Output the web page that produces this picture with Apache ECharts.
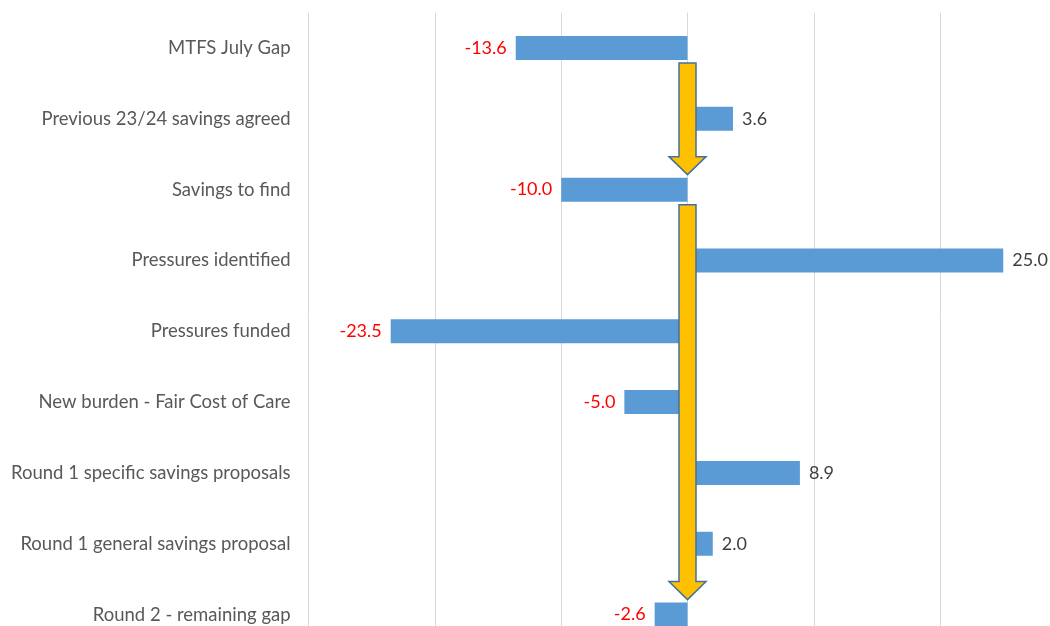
<!DOCTYPE html>
<html>
<head>
<meta charset="utf-8">
<script src="https://cdn.jsdelivr.net/npm/echarts@6/dist/echarts.min.js"></script>
<style>
  html, body { margin: 0; padding: 0; background: #fff; }
  #myChart { width: 1050px; height: 626px; }
</style>
</head>
<body>
<div id="myChart"></div>
<script>
  // categories, top to bottom
  var categories = [
    'MTFS July Gap',
    'Previous 23/24 savings agreed',
    'Savings to find',
    'Pressures identified',
    'Pressures funded',
    'New burden - Fair Cost of Care',
    'Round 1 specific savings proposals',
    'Round 1 general savings proposal',
    'Round 2 - remaining gap'
  ];
  var values = [-13.6, 3.6, -10.0, 25.0, -23.5, -5.0, 8.9, 2.0, -2.6];
  // arrows drawn down the zero line: [from row, to row]
  var arrows = [[0, 2], [2, 8]];

  var myChart = echarts.init(document.getElementById('myChart'));

  var barData = values.map(function (v) {
    return {
      value: v,
      label: {
        position: v < 0 ? 'left' : 'right',
        color: v < 0 ? '#ff0000' : '#404040'
      }
    };
  });

  myChart.setOption({
    animation: false,
    grid: {
      left: 308.6,
      right: -16.4,
      top: 12.6,
      bottom: -24,
      containLabel: false,
      outerBoundsMode: 'none'
    },
    xAxis: {
      type: 'value',
      min: -30,
      max: 30,
      interval: 10,
      axisLabel: { show: false },
      axisLine: { show: false },
      axisTick: { show: false },
      splitLine: { lineStyle: { color: '#d9d9d9', width: 1 } }
    },
    yAxis: {
      type: 'category',
      inverse: true,
      data: categories,
      axisLine: { show: false },
      axisTick: { show: false },
      axisLabel: {
        margin: 18,
        color: '#595959',
        fontSize: 18.5,
        fontFamily: 'Lato'
      }
    },
    series: [{
      type: 'bar',
      data: barData,
      barWidth: 24,
      itemStyle: { color: '#5b9bd5' },
      label: {
        show: true,
        distance: 9,
        fontSize: 18,
        fontFamily: 'Lato',
        formatter: function (p) { return p.value.toFixed(1); }
      }
    }]
  });

  // block arrows placed from the axes' own scales
  var x0 = myChart.convertToPixel({ xAxisIndex: 0 }, 0);
  var graphics = arrows.map(function (a) {
    var yTop = myChart.convertToPixel({ yAxisIndex: 0 }, a[0]) + 12 + 3;
    var yTip = myChart.convertToPixel({ yAxisIndex: 0 }, a[1]) - 12 - 3;
    var shaft = 8.5, head = 18.5, headLen = 18;
    return {
      type: 'polygon',
      z: 100,
      shape: {
        points: [
          [x0 - shaft, yTop], [x0 + shaft, yTop],
          [x0 + shaft, yTip - headLen], [x0 + head, yTip - headLen],
          [x0, yTip],
          [x0 - head, yTip - headLen], [x0 - shaft, yTip - headLen]
        ]
      },
      style: { fill: '#ffc000', stroke: '#41719c', lineWidth: 1.5 }
    };
  });
  myChart.setOption({ graphic: graphics });
</script>
</body>
</html>
